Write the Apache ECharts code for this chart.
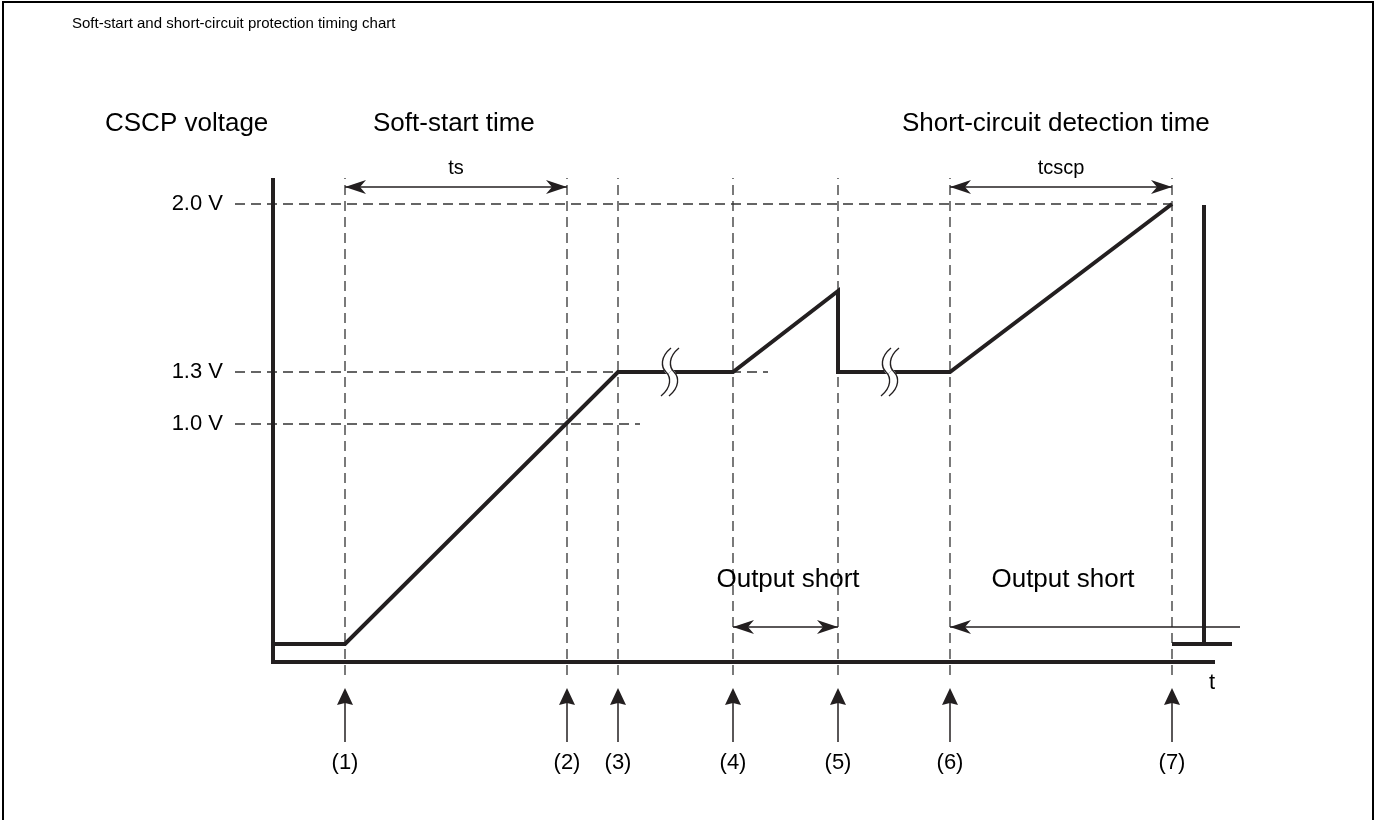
<!DOCTYPE html>
<html>
<head>
<meta charset="utf-8">
<title>Soft-start and short-circuit protection timing chart</title>
<script src="https://cdn.jsdelivr.net/npm/echarts@6/dist/echarts.min.js"></script>
<style>
  html, body { margin: 0; padding: 0; background: #fff; overflow: hidden; }
  #wrap { position: relative; width: 1376px; height: 820px; }
  #chart { width: 1376px; height: 820px; }
  #frame { position: absolute; left: 2px; top: 1px; width: 1372px; height: 860px;
           border: 2px solid #000; box-sizing: border-box; pointer-events: none; }
</style>
</head>
<body>
<div id="wrap"><div id="chart"></div><div id="frame"></div></div>
<script>
var FONT = '"Liberation Sans", Arial, Helvetica, sans-serif';
var INK = '#231f20';
var DASH = '#333333';

// events (1)..(7) on the time axis (schematic time units)
var eventLabels = ['(1)', '(2)', '(3)', '(4)', '(5)', '(6)', '(7)'];
var eventTimes = [7.2, 29.4, 34.5, 46.0, 56.5, 67.7, 89.9];

// reference voltages (the drawing is not to scale)
var levelLabels = ['2.0 V', '1.3 V', '1.0 V'];
var levelValues = [45.8, 29.0, 23.8];
var levelEnds = [89.9, 49.5, 36.7];

// CSCP voltage waveform
var cscpTimes = [0, 7.2, 34.5, 46.0, 56.5, 56.5, 67.7, 89.9];
var cscpValues = [1.8, 1.8, 29.0, 29.0, 37.1, 29.0, 29.0, 45.8];

// after detection
var restartTimes = [89.9, 95.9];
var restartValues = [1.8, 1.8];
var pulseTimes = [93.1, 93.1];
var pulseValues = [1.8, 45.7];

// time breaks on the 1.3 V plateau
var breakTimes = [39.7, 61.7];

// span arrows
var spanStarts = [7.2, 67.7, 46.0, 67.7];
var spanEnds = [29.4, 89.9, 56.5, 96.7];
var spanLevels = [47.5, 47.5, 3.5, 3.5];
var spanHeads = ['both', 'both', 'both', 'start'];

var spanNames = ['ts', 'tcscp'];
var spanNameTimes = [18.3, 78.8];
var spanNameLevel = 49.4;

var shortNames = ['Output short', 'Output short'];
var shortNameTimes = [51.5, 79.0];
var shortNameLevel = 8.2;

var headers = ['CSCP voltage', 'Soft-start time', 'Short-circuit detection time'];
var headerTimes = [-16.8, 10.0, 62.9];
var headerLevel = 53.8;

var axisTop = 48.4, axisEnd = 94.2;
var markTop = 48.4, markBottom = -1.3;
var eventArrowTip = -2.6, eventArrowTail = -8.0, eventLabelLevel = -10.1;

function zip(xs, ys) {
  return xs.map(function (x, i) { return [x, ys[i]]; });
}

function textSeries(texts, pts, size, align) {
  return {
    type: 'custom',
    z: 10,
    data: pts,
    renderItem: function (params, api) {
      var p = api.coord([api.value(0), api.value(1)]);
      return {
        type: 'text',
        x: p[0], y: p[1],
        style: {
          text: texts[params.dataIndex],
          fontFamily: FONT, fontSize: size, fill: '#000',
          align: align, verticalAlign: 'middle'
        }
      };
    }
  };
}

function at(xs, y) {
  return xs.map(function (x) { return [x, y]; });
}

function headPoints(x, y, dx, dy) {
  // arrow head with its tip at (x, y) pointing along (dx, dy)
  var L = 21, W = 7, N = 15;
  var px = -dy, py = dx;
  return [
    [x, y],
    [x - dx * L + px * W, y - dy * L + py * W],
    [x - dx * N, y - dy * N],
    [x - dx * L - px * W, y - dy * L - py * W]
  ];
}

var chart = echarts.init(document.getElementById('chart'));

chart.setOption({
  animation: false,
  backgroundColor: '#fff',
  title: {
    text: 'Soft-start and short-circuit protection timing chart',
    left: 67, top: 11,
    textStyle: { fontFamily: FONT, fontSize: 15, fontWeight: 'normal', color: '#000' }
  },
  grid: { left: 3, right: 3, top: 12, bottom: 8 },
  xAxis: { type: 'value', min: -27, max: 110, show: false },
  yAxis: { type: 'value', min: -15, max: 65, show: false },
  series: [
    // vertical dashed event markers, dashed from the bottom up
    {
      type: 'custom',
      z: 1,
      data: at(eventTimes, 0),
      renderItem: function (params, api) {
        var a = api.coord([api.value(0), markBottom]);
        var b = api.coord([api.value(0), markTop]);
        return {
          type: 'line',
          shape: { x1: a[0], y1: a[1], x2: b[0], y2: b[1] },
          style: { stroke: DASH, lineWidth: 1.3, lineDash: [10, 6] }
        };
      }
    },
    // horizontal dashed voltage references
    {
      type: 'custom',
      z: 1,
      data: zip(levelEnds, levelValues),
      renderItem: function (params, api) {
        var a = api.coord([-3.8, api.value(1)]);
        var b = api.coord([api.value(0), api.value(1)]);
        return {
          type: 'line',
          shape: { x1: a[0], y1: a[1], x2: b[0], y2: b[1] },
          style: { stroke: DASH, lineWidth: 1.3, lineDash: [10, 6] }
        };
      }
    },
    // axes
    {
      type: 'line', z: 3, symbol: 'none', silent: true,
      data: [[0, axisTop], [0, 0], [axisEnd, 0]],
      lineStyle: { color: INK, width: 4, cap: 'butt', join: 'miter' }
    },
    // CSCP voltage
    {
      type: 'line', z: 4, symbol: 'none', silent: true,
      data: zip(cscpTimes, cscpValues),
      lineStyle: { color: INK, width: 4, join: 'miter' }
    },
    {
      type: 'line', z: 4, symbol: 'none', silent: true,
      data: zip(restartTimes, restartValues),
      lineStyle: { color: INK, width: 4, cap: 'butt' }
    },
    {
      type: 'line', z: 4, symbol: 'none', silent: true,
      data: zip(pulseTimes, pulseValues),
      lineStyle: { color: INK, width: 4, cap: 'butt' }
    },
    // break symbols
    {
      type: 'custom',
      z: 6,
      data: at(breakTimes, levelValues[1]),
      renderItem: function (params, api) {
        var c = api.coord([api.value(0), api.value(1)]);
        function sCurve(dx, stroke, width) {
          var x = c[0] + dx, y = c[1];
          return [
            { type: 'bezierCurve',
              shape: { x1: x + 5, y1: y - 24, cpx1: x - 6, cpy1: y - 15, cpx2: x - 5, cpy2: y - 5, x2: x, y2: y },
              style: { stroke: stroke, lineWidth: width, fill: null } },
            { type: 'bezierCurve',
              shape: { x1: x, y1: y, cpx1: x + 5, cpy1: y + 5, cpx2: x + 6, cpy2: y + 15, x2: x - 5, y2: y + 24 },
              style: { stroke: stroke, lineWidth: width, fill: null } }
          ];
        }
        return {
          type: 'group',
          children: sCurve(0, '#fff', 8).concat(sCurve(-4, INK, 1.4), sCurve(4, INK, 1.4))
        };
      }
    },
    // span arrows
    {
      type: 'custom',
      z: 5,
      data: spanStarts.map(function (s, i) { return [s, spanLevels[i], spanEnds[i]]; }),
      renderItem: function (params, api) {
        var a = api.coord([api.value(0), api.value(1)]);
        var b = api.coord([api.value(2), api.value(1)]);
        var kids = [{
          type: 'line',
          shape: { x1: a[0], y1: a[1], x2: b[0], y2: b[1] },
          style: { stroke: INK, lineWidth: 1.5 }
        }];
        kids.push({ type: 'polygon', shape: { points: headPoints(a[0], a[1], -1, 0) }, style: { fill: INK } });
        if (spanHeads[params.dataIndex] === 'both') {
          kids.push({ type: 'polygon', shape: { points: headPoints(b[0], b[1], 1, 0) }, style: { fill: INK } });
        }
        return { type: 'group', children: kids };
      }
    },
    // event arrows below the time axis
    {
      type: 'custom',
      z: 5,
      data: at(eventTimes, eventArrowTip),
      renderItem: function (params, api) {
        var a = api.coord([api.value(0), eventArrowTip]);
        var b = api.coord([api.value(0), eventArrowTail]);
        var x = a[0], y = a[1];
        return {
          type: 'group',
          children: [
            { type: 'line', shape: { x1: x, y1: y + 10, x2: b[0], y2: b[1] }, style: { stroke: INK, lineWidth: 1.5 } },
            { type: 'polygon', shape: { points: [[x, y], [x - 8, y + 17], [x, y + 15], [x + 8, y + 17]] }, style: { fill: INK } }
          ]
        };
      }
    },
    textSeries(headers, at(headerTimes, headerLevel), 26, 'left'),
    textSeries(spanNames, at(spanNameTimes, spanNameLevel), 20, 'center'),
    textSeries(shortNames, at(shortNameTimes, shortNameLevel), 26, 'center'),
    textSeries(levelLabels, levelValues.map(function (v) { return [-5.0, v]; }), 22, 'right'),
    textSeries(eventLabels, at(eventTimes, eventLabelLevel), 22, 'center'),
    textSeries(['t'], [[93.9, -2.1]], 22, 'center')
  ]
});
</script>
</body>
</html>
